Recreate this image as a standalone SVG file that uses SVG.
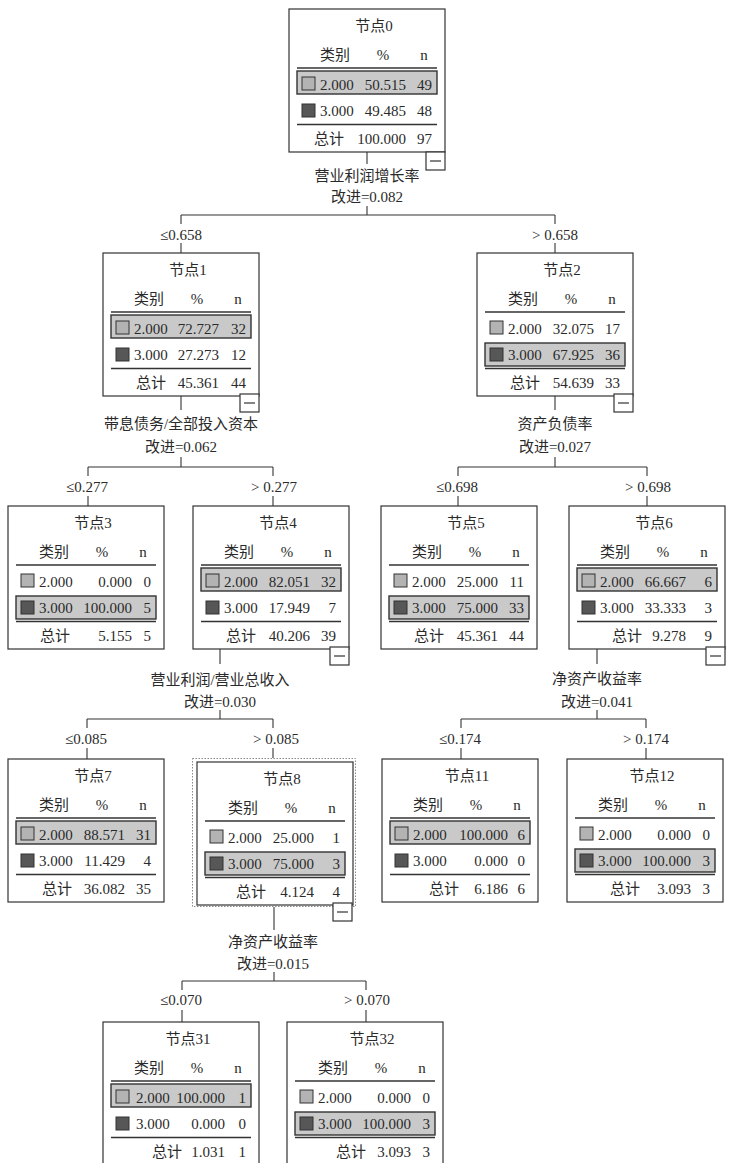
<svg xmlns="http://www.w3.org/2000/svg" width="729" height="1163" viewBox="0 0 729 1163">
<style>
text{font-family:"Liberation Serif","Noto Sans CJK SC",serif;font-size:15px;fill:#2a2a2a}
.m{text-anchor:middle}.e{text-anchor:end}
.box{fill:#fff;stroke:#333;stroke-width:1.2}
.hl{fill:#c9c9c9;stroke:#333;stroke-width:1.4}
.rule{stroke:#333;stroke-width:1.5}
.sq1{fill:#b3b3b3;stroke:#333;stroke-width:1}
.sq2{fill:#575757;stroke:#333;stroke-width:1}
.col{fill:#fff;stroke:#333;stroke-width:1.2}
.conn line{stroke:#333;stroke-width:1.1}
.sel{fill:none;stroke:#888;stroke-width:1;stroke-dasharray:1.5 1.5}
</style>
<defs>
<g id="frame">
<rect class="box" x="0" y="0" width="156" height="143"/>
<line class="rule" x1="8" y1="59" x2="148" y2="59"/>
<line class="rule" x1="8" y1="115.5" x2="148" y2="115.5"/>
</g>
<g id="hdr">
<text class="m" x="46" y="51">类别</text><text class="m" x="94" y="51">%</text><text class="m" x="135" y="51">n</text>
</g>
<g id="hl1"><rect class="hl" x="8" y="62" width="140" height="23"/></g>
<g id="hl2"><rect class="hl" x="8" y="90" width="140" height="23"/></g>
<g id="sqs"><rect class="sq1" x="13" y="68" width="13" height="13"/><rect class="sq2" x="13" y="95" width="13" height="13"/></g>
<g id="collapse"><rect class="col" x="0" y="0" width="19" height="18"/><line x1="4" y1="9" x2="15" y2="9" stroke="#333" stroke-width="1.2"/></g>
</defs>

<g class="conn" id="connectors">
<line x1="367" y1="152" x2="367" y2="164"/><line x1="367" y1="206" x2="367" y2="215"/>
<line x1="181" y1="215" x2="555" y2="215"/><line x1="181" y1="215" x2="181" y2="224"/><line x1="555" y1="215" x2="555" y2="224"/>
<line x1="181" y1="243" x2="181" y2="253"/><line x1="555" y1="243" x2="555" y2="253"/>

<line x1="181" y1="394" x2="181" y2="410"/><line x1="181" y1="457" x2="181" y2="467"/>
<line x1="88" y1="467" x2="273" y2="467"/><line x1="88" y1="467" x2="88" y2="476"/><line x1="273" y1="467" x2="273" y2="476"/>
<line x1="88" y1="496" x2="88" y2="506"/><line x1="273" y1="496" x2="273" y2="506"/>

<line x1="555" y1="394" x2="555" y2="410"/><line x1="555" y1="457" x2="555" y2="467"/>
<line x1="458" y1="467" x2="647" y2="467"/><line x1="458" y1="467" x2="458" y2="476"/><line x1="647" y1="467" x2="647" y2="476"/>
<line x1="458" y1="496" x2="458" y2="506"/><line x1="647" y1="496" x2="647" y2="506"/>

<line x1="220" y1="647" x2="220" y2="664"/><line x1="220" y1="710" x2="220" y2="719"/>
<line x1="87" y1="719" x2="273" y2="719"/><line x1="87" y1="719" x2="87" y2="728"/><line x1="273" y1="719" x2="273" y2="728"/>
<line x1="87" y1="748" x2="87" y2="759"/><line x1="273" y1="748" x2="273" y2="758"/>

<line x1="597" y1="647" x2="597" y2="664"/><line x1="597" y1="710" x2="597" y2="719"/>
<line x1="461" y1="719" x2="646" y2="719"/><line x1="461" y1="719" x2="461" y2="728"/><line x1="646" y1="719" x2="646" y2="728"/>
<line x1="461" y1="748" x2="461" y2="759"/><line x1="646" y1="748" x2="646" y2="759"/>

<line x1="274" y1="907" x2="274" y2="930"/><line x1="274" y1="972" x2="274" y2="981"/>
<line x1="182" y1="981" x2="366" y2="981"/><line x1="182" y1="981" x2="182" y2="990"/><line x1="366" y1="981" x2="366" y2="990"/>
<line x1="182" y1="1010" x2="182" y2="1022"/><line x1="366" y1="1010" x2="366" y2="1022"/>
</g>

<g id="labels">
<text class="m" x="367" y="181">营业利润增长率</text><text class="m" x="367" y="202">改进=0.082</text>
<text class="m" x="181" y="240">≤0.658</text><text class="m" x="555" y="240">&gt; 0.658</text>
<text class="m" x="181" y="429">带息债务/全部投入资本</text><text class="m" x="181" y="452">改进=0.062</text>
<text class="m" x="87" y="492">≤0.277</text><text class="m" x="274" y="492">&gt; 0.277</text>
<text class="m" x="555" y="429">资产负债率</text><text class="m" x="555" y="452">改进=0.027</text>
<text class="m" x="457" y="492">≤0.698</text><text class="m" x="648" y="492">&gt; 0.698</text>
<text class="m" x="220" y="685">营业利润/营业总收入</text><text class="m" x="220" y="707">改进=0.030</text>
<text class="m" x="86" y="744">≤0.085</text><text class="m" x="276" y="744">&gt; 0.085</text>
<text class="m" x="597" y="684">净资产收益率</text><text class="m" x="597" y="707">改进=0.041</text>
<text class="m" x="460" y="744">≤0.174</text><text class="m" x="646" y="744">&gt; 0.174</text>
<text class="m" x="273" y="947">净资产收益率</text><text class="m" x="273" y="969">改进=0.015</text>
<text class="m" x="181" y="1005">≤0.070</text><text class="m" x="367" y="1005">&gt; 0.070</text>
</g>

<g id="node0" transform="translate(289,9)">
<use href="#frame"/><use href="#hl1"/><use href="#sqs"/><use href="#hdr"/>
<text class="m" x="85" y="22">节点0</text>
<text x="31" y="81">2.000</text><text class="e" x="117" y="81">50.515</text><text class="e" x="143" y="81">49</text>
<text x="31" y="107">3.000</text><text class="e" x="117" y="107">49.485</text><text class="e" x="143" y="107">48</text>
<text class="m" x="40" y="135">总计</text><text class="e" x="117" y="135">100.000</text><text class="e" x="143" y="135">97</text>
<use href="#collapse" x="137" y="143"/>
</g>

<g id="node1" transform="translate(103,253)">
<use href="#frame"/><use href="#hl1"/><use href="#sqs"/><use href="#hdr"/>
<text class="m" x="85" y="22">节点1</text>
<text x="31" y="81">2.000</text><text class="e" x="116" y="81">72.727</text><text class="e" x="143" y="81">32</text>
<text x="31" y="107">3.000</text><text class="e" x="116" y="107">27.273</text><text class="e" x="143" y="107">12</text>
<text class="m" x="48" y="135">总计</text><text class="e" x="116" y="135">45.361</text><text class="e" x="143" y="135">44</text>
<use href="#collapse" x="137" y="141"/>
</g>

<g id="node2" transform="translate(477,253)">
<use href="#frame"/><use href="#hl2"/><use href="#sqs"/><use href="#hdr"/>
<text class="m" x="85" y="22">节点2</text>
<text x="31" y="81">2.000</text><text class="e" x="117" y="81">32.075</text><text class="e" x="143" y="81">17</text>
<text x="31" y="107">3.000</text><text class="e" x="117" y="107">67.925</text><text class="e" x="143" y="107">36</text>
<text class="m" x="48" y="135">总计</text><text class="e" x="117" y="135">54.639</text><text class="e" x="143" y="135">33</text>
<use href="#collapse" x="137" y="141"/>
</g>

<g id="node3" transform="translate(8,506)">
<use href="#frame"/><use href="#hl2"/><use href="#sqs"/><use href="#hdr"/>
<text class="m" x="85" y="22">节点3</text>
<text x="31" y="81">2.000</text><text class="e" x="124" y="81">0.000</text><text class="e" x="143" y="81">0</text>
<text x="31" y="107">3.000</text><text class="e" x="124" y="107">100.000</text><text class="e" x="143" y="107">5</text>
<text class="m" x="47" y="135">总计</text><text class="e" x="124" y="135">5.155</text><text class="e" x="143" y="135">5</text>
</g>

<g id="node4" transform="translate(193,506)">
<use href="#frame"/><use href="#hl1"/><use href="#sqs"/><use href="#hdr"/>
<text class="m" x="85" y="22">节点4</text>
<text x="31" y="81">2.000</text><text class="e" x="117" y="81">82.051</text><text class="e" x="143" y="81">32</text>
<text x="31" y="107">3.000</text><text class="e" x="117" y="107">17.949</text><text class="e" x="143" y="107">7</text>
<text class="m" x="48" y="135">总计</text><text class="e" x="117" y="135">40.206</text><text class="e" x="143" y="135">39</text>
<use href="#collapse" x="137" y="141"/>
</g>

<g id="node5" transform="translate(381,506)">
<use href="#frame"/><use href="#hl2"/><use href="#sqs"/><use href="#hdr"/>
<text class="m" x="85" y="22">节点5</text>
<text x="31" y="81">2.000</text><text class="e" x="117" y="81">25.000</text><text class="e" x="143" y="81">11</text>
<text x="31" y="107">3.000</text><text class="e" x="117" y="107">75.000</text><text class="e" x="143" y="107">33</text>
<text class="m" x="48" y="135">总计</text><text class="e" x="117" y="135">45.361</text><text class="e" x="143" y="135">44</text>
</g>

<g id="node6" transform="translate(569,506)">
<use href="#frame"/><use href="#hl1"/><use href="#sqs"/><use href="#hdr"/>
<text class="m" x="85" y="22">节点6</text>
<text x="31" y="81">2.000</text><text class="e" x="117" y="81">66.667</text><text class="e" x="143" y="81">6</text>
<text x="31" y="107">3.000</text><text class="e" x="117" y="107">33.333</text><text class="e" x="143" y="107">3</text>
<text class="m" x="58" y="135">总计</text><text class="e" x="117" y="135">9.278</text><text class="e" x="143" y="135">9</text>
<use href="#collapse" x="137" y="141"/>
</g>

<g id="node7" transform="translate(8,759)">
<use href="#frame"/><use href="#hl1"/><use href="#sqs"/><use href="#hdr"/>
<text class="m" x="85" y="22">节点7</text>
<text x="31" y="81">2.000</text><text class="e" x="117" y="81">88.571</text><text class="e" x="143" y="81">31</text>
<text x="31" y="107">3.000</text><text class="e" x="117" y="107">11.429</text><text class="e" x="143" y="107">4</text>
<text class="m" x="49" y="135">总计</text><text class="e" x="117" y="135">36.082</text><text class="e" x="143" y="135">35</text>
</g>

<g id="node8">
<rect class="sel" x="192.5" y="758.5" width="163" height="148"/>
<g transform="translate(197,762)">
<use href="#frame"/><use href="#hl2"/><use href="#sqs"/><use href="#hdr"/>
<text class="m" x="85" y="22">节点8</text>
<text x="31" y="81">2.000</text><text class="e" x="117" y="81">25.000</text><text class="e" x="143" y="81">1</text>
<text x="31" y="107">3.000</text><text class="e" x="117" y="107">75.000</text><text class="e" x="143" y="107">3</text>
<text class="m" x="54" y="135">总计</text><text class="e" x="117" y="135">4.124</text><text class="e" x="143" y="135">4</text>
<use href="#collapse" x="136" y="141"/>
</g>
</g>

<g id="node11" transform="translate(382,759)">
<use href="#frame"/><use href="#hl1"/><use href="#sqs"/><use href="#hdr"/>
<text class="m" x="85" y="22">节点11</text>
<text x="31" y="81">2.000</text><text class="e" x="126" y="81">100.000</text><text class="e" x="143" y="81">6</text>
<text x="31" y="107">3.000</text><text class="e" x="126" y="107">0.000</text><text class="e" x="143" y="107">0</text>
<text class="m" x="62" y="135">总计</text><text class="e" x="126" y="135">6.186</text><text class="e" x="143" y="135">6</text>
</g>

<g id="node12" transform="translate(567,759)">
<use href="#frame"/><use href="#hl2"/><use href="#sqs"/><use href="#hdr"/>
<text class="m" x="85" y="22">节点12</text>
<text x="31" y="81">2.000</text><text class="e" x="124" y="81">0.000</text><text class="e" x="143" y="81">0</text>
<text x="31" y="107">3.000</text><text class="e" x="124" y="107">100.000</text><text class="e" x="143" y="107">3</text>
<text class="m" x="58" y="135">总计</text><text class="e" x="124" y="135">3.093</text><text class="e" x="143" y="135">3</text>
</g>

<g id="node31" transform="translate(103,1022)">
<use href="#frame"/><use href="#hl1"/><use href="#sqs"/><use href="#hdr"/>
<text class="m" x="85" y="22">节点31</text>
<text x="33" y="81">2.000</text><text class="e" x="122" y="81">100.000</text><text class="e" x="143" y="81">1</text>
<text x="33" y="107">3.000</text><text class="e" x="122" y="107">0.000</text><text class="e" x="143" y="107">0</text>
<text class="m" x="64" y="135">总计</text><text class="e" x="122" y="135">1.031</text><text class="e" x="143" y="135">1</text>
</g>

<g id="node32" transform="translate(287,1022)">
<use href="#frame"/><use href="#hl2"/><use href="#sqs"/><use href="#hdr"/>
<text class="m" x="85" y="22">节点32</text>
<text x="31" y="81">2.000</text><text class="e" x="124" y="81">0.000</text><text class="e" x="143" y="81">0</text>
<text x="31" y="107">3.000</text><text class="e" x="124" y="107">100.000</text><text class="e" x="143" y="107">3</text>
<text class="m" x="64" y="135">总计</text><text class="e" x="124" y="135">3.093</text><text class="e" x="143" y="135">3</text>
</g>
</svg>
